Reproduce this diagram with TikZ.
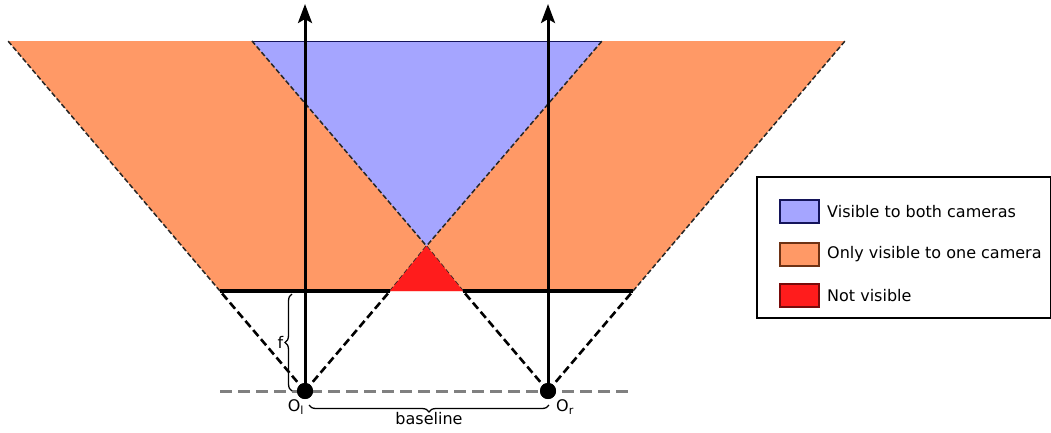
\documentclass[tikz,border=0pt]{standalone}
\usepackage{fontspec}
\setmainfont{DejaVu Sans}
\usetikzlibrary{arrows.meta,decorations.pathreplacing}
\definecolor{vblue}{RGB}{165,165,255}
\definecolor{vorange}{RGB}{255,153,102}
\definecolor{vred}{RGB}{255,28,28}
\definecolor{bblue}{RGB}{20,20,90}
\definecolor{borange}{RGB}{110,50,20}
\definecolor{bred}{RGB}{120,10,10}
\tikzset{
  ray/.style={black, line width=2.6pt, dash pattern=on 8pt off 4pt},
  fovedge/.style={black!85, line width=1.5pt, dash pattern=on 5pt off 2.5pt},
  axis/.style={line width=3pt, -{Stealth[length=19pt,width=14pt,inset=4pt]}},
  lbl/.style={font=\fontsize{16}{19}\selectfont, inner sep=1pt},
  swatch/.style={minimum width=39pt, minimum height=23pt, line width=1.6pt, inner sep=0pt},
  cam/.style={circle, fill=black, minimum size=16pt, inner sep=0pt},
  brc/.style={line width=1.3pt, decorate},
}
\begin{document}
\begin{tikzpicture}[x=1pt,y=-1pt]
\useasboundingbox (0,0) rectangle (1051,432);
% key points
\coordinate (TL) at (8,41);
\coordinate (TLi) at (252,41);
\coordinate (TRi) at (602,41);
\coordinate (TR) at (845,41);
\coordinate (PL) at (220,291);
\coordinate (PLi) at (390,291);
\coordinate (PRi) at (463,291);
\coordinate (PR) at (633,291);
\coordinate (X) at (426.5,246);
% regions
\fill[vorange] (TL) -- (TR) -- (PR) -- (PL) -- cycle;
\fill[vblue] (TLi) -- (TRi) -- (X) -- cycle;
\draw[bblue, line width=1pt] (TLi) -- (TRi);
% fov edges above image plane
\draw[fovedge] (PL) -- (TL);
\draw[fovedge] (PLi) -- (X) -- (TRi);
\draw[fovedge] (PRi) -- (X) -- (TLi);
\draw[fovedge] (PR) -- (TR);
% baseline
\draw[gray, line width=3pt, dash pattern=on 12pt off 6pt] (220,391) -- (633,391);
% image plane
\draw[line width=4pt] (PL) -- (PLi);
\draw[line width=4pt] (PRi) -- (PR);
\fill[vred] (X) -- (PRi) -- (PLi) -- cycle;
% cameras
\node[cam] (OL) at (305,391) {};
\node[cam] (OR) at (548,391) {};
\coordinate (AL) at (305,4);
\coordinate (AR) at (548,4);
\draw[ray] (OL.center) -- (PL);
\draw[ray] (OL.center) -- (PLi);
\draw[ray] (OR.center) -- (PRi);
\draw[ray] (OR.center) -- (PR);
\draw[axis] (OL.center) -- (AL);
\draw[axis] (OR.center) -- (AR);
\node[cam] at (305,391) {};
\node[cam] at (548,391) {};
% labels
\node[lbl] (lOL) at (296,407) {O\textsubscript{l}};
\node[lbl] (lOR) at (565,407) {O\textsubscript{r}};
\coordinate (fB) at (292,391);
\coordinate (fT) at (292,294);
\draw[brc, decoration={brace, amplitude=7pt}] (fB) -- (fT)
  node[lbl, midway, left=7pt] (lf) {f};
\coordinate (bL) at (309,405);
\coordinate (bR) at (549,405);
\draw[brc, decoration={brace, amplitude=7pt, mirror}] (bL) -- (bR)
  node[lbl, midway, below=6pt] (lb) {baseline};
% legend
\node[draw, line width=1.6pt, minimum width=294pt, minimum height=141pt, inner sep=0pt] (leg) at (904,247.5) {};
\node[swatch, fill=vblue, draw=bblue] (s1) at (799.5,211.5) {};
\node[swatch, fill=vorange, draw=borange] (s2) at (799.5,254.5) {};
\node[swatch, fill=vred, draw=bred] (s3) at (799.5,295.5) {};
\node[lbl, anchor=west] (t1) at (826,211.5) {Visible to both cameras};
\node[lbl, anchor=west] (t2) at (826,254.5) {Only visible to one camera};
\node[lbl, anchor=west] (t3) at (826,295.5) {Not visible};
\end{tikzpicture}
\end{document}
